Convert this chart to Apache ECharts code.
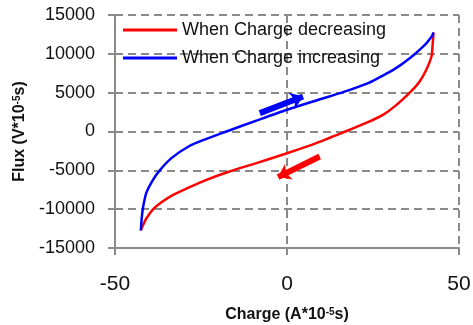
<!DOCTYPE html>
<html><head><meta charset="utf-8">
<script src="https://cdn.jsdelivr.net/npm/echarts@6/dist/echarts.min.js"></script>
<style>html,body{margin:0;padding:0;background:#fff}#c{width:473px;height:325px}</style>
</head><body><div id="c"></div>
<script>
// Data
var seriesNames = ['When Charge decreasing', 'When Charge increasing'];
var decreasingCharge = [42.6, 42.3, 42.0, 40.5, 38.5, 35.7, 31.5, 27.9, 23, 17, 8.5, 0, -8.9, -16.7, -23.4, -29, -33.1, -36.5, -38.9, -40.9, -42, -42.5];
var decreasingFlux   = [12750, 11000, 9660, 7940, 6400, 5000, 3300, 2150, 1100, 0, -1500, -2800, -4070, -5150, -6220, -7300, -8150, -9100, -10000, -11200, -12200, -12750];
var increasingCharge = [-42.5, -42.2, -41.8, -40.9, -39.0, -37.0, -33.5, -28.5, -24, -17.6, -8.9, 0, 8.5, 16.5, 23.4, 27, 30, 33, 35, 37.1, 39, 40.5, 41.5, 42.2, 42.6];
var increasingFlux   = [-12750, -11000, -9660, -7900, -6250, -5000, -3400, -1900, -1050, 0, 1400, 2800, 4000, 5100, 6200, 7000, 7700, 8550, 9200, 9950, 10700, 11350, 11900, 12350, 12750];
// direction arrows [charge, flux] start -> end
var increasingArrow = [[-7.9, 2370], [4.65, 4500]];
var decreasingArrow = [[9.5, -3220], [-2.6, -5870]];
var xTicks = [-50, 0, 50];
var yTicks = [-15000, -10000, -5000, 0, 5000, 10000, 15000];

function pairs(xs, ys) { return xs.map(function (x, i) { return [x, ys[i]]; }); }
var font = 'Liberation Sans';
var gridColor = '#8a8a8a';
var chart = echarts.init(document.getElementById('c'));
chart.setOption({
  animation: false,
  grid: { left: 115, right: 14, top: 15, bottom: 77, containLabel: false, outerBoundsMode: 'none' },
  legend: {
    orient: 'vertical', left: 118, top: 15, itemGap: 8,
    itemWidth: 54, itemHeight: 3, icon: 'rect',
    textStyle: { fontFamily: font, fontSize: 18, color: '#111', lineHeight: 20 },
    data: seriesNames
  },
  xAxis: {
    type: 'value', min: xTicks[0], max: xTicks[xTicks.length - 1], interval: 50,
    name: 'Charge (A*10{sup|-5}s)', nameLocation: 'middle', nameGap: 59,
    nameTextStyle: { fontFamily: font, fontSize: 16, fontWeight: 'bold', color: '#111',
      rich: { sup: { fontFamily: font, fontSize: 10, fontWeight: 'bold', color: '#111', verticalAlign: 'top', padding: [0, 0, 6, 0] } } },
    axisLine: { onZero: false, lineStyle: { color: gridColor, width: 2 } },
    axisTick: { length: 7, lineStyle: { color: gridColor, width: 2 } },
    axisLabel: { fontFamily: font, fontSize: 21, color: '#111', margin: 26, formatter: function (v) { return String(v); } },
    splitLine: { show: true, lineStyle: { color: gridColor, width: 2, type: [8, 5] } }
  },
  yAxis: {
    type: 'value', min: yTicks[0], max: yTicks[yTicks.length - 1], interval: 5000,
    name: 'Flux (V*10{sup|-5}s)', nameLocation: 'middle', nameGap: 82,
    nameTextStyle: { fontFamily: font, fontSize: 16, fontWeight: 'bold', color: '#111',
      rich: { sup: { fontFamily: font, fontSize: 10, fontWeight: 'bold', color: '#111', verticalAlign: 'top', padding: [0, 0, 6, 0] } } },
    axisLine: { show: true, onZero: false, lineStyle: { color: gridColor, width: 2 } },
    axisTick: { show: true, length: 7, lineStyle: { color: gridColor, width: 2 } },
    axisLabel: { fontFamily: font, fontSize: 18, color: '#111', margin: 20, formatter: function (v) { return String(v); } },
    splitLine: { show: true, lineStyle: { color: gridColor, width: 2, type: [8, 5] } }
  },
  series: [
    {
      name: seriesNames[0], type: 'line', data: pairs(decreasingCharge, decreasingFlux),
      showSymbol: false, smooth: 0.25, color: '#ff0000',
      lineStyle: { width: 2.5, color: '#ff0000' },
      markLine: { silent: true, symbol: ['none', 'arrow'], symbolSize: [13, 12], label: { show: false },
        lineStyle: { color: '#ff0000', width: 6, type: 'solid' },
        data: [[{ coord: decreasingArrow[0] }, { coord: decreasingArrow[1] }]] }
    },
    {
      name: seriesNames[1], type: 'line', data: pairs(increasingCharge, increasingFlux),
      showSymbol: false, smooth: 0.25, color: '#0000ff',
      lineStyle: { width: 2.5, color: '#0000ff' },
      markLine: { silent: true, symbol: ['none', 'arrow'], symbolSize: [13, 12], label: { show: false },
        lineStyle: { color: '#0000ff', width: 6, type: 'solid' },
        data: [[{ coord: increasingArrow[0] }, { coord: increasingArrow[1] }]] }
    }
  ]
});
</script></body></html>
